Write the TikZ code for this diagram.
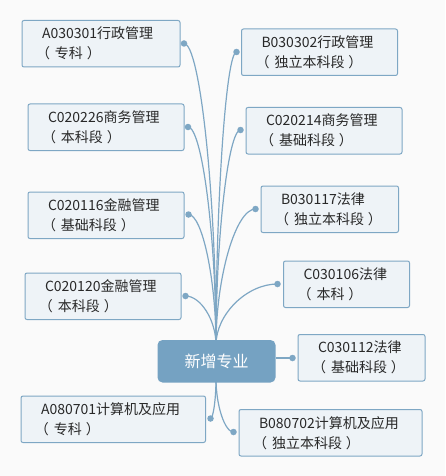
\documentclass[tikz,border=0pt]{standalone}
\usepackage{fontspec}
\setmainfont{Noto Sans CJK SC}
\usetikzlibrary{calc}
\definecolor{bgc}{RGB}{250,250,250}
\definecolor{boxfill}{RGB}{238,243,247}
\definecolor{boxdraw}{RGB}{126,167,196}
\definecolor{mainfill}{RGB}{117,162,194}
\definecolor{linec}{RGB}{126,167,196}
\definecolor{txt}{RGB}{40,40,40}
\newcommand{\mylp}{\hspace*{-6pt}（\nobreak\hspace{5pt}}
\newcommand{\myrp}{\nobreak\hspace{4pt}\nobreak）}
\pgfdeclarelayer{bglayer}
\pgfsetlayers{bglayer,main}
\begin{document}
\begin{tikzpicture}[x=1pt,y=-1pt,
  topic/.style={draw=boxdraw, fill=boxfill, line width=1pt, rounded corners=2pt,
    anchor=north west, inner xsep=20pt, inner ysep=0pt, minimum height=46.5pt,
    align=left, text=txt, font=\fontsize{14}{20}\selectfont},
  central/.style={fill=mainfill, rounded corners=5pt, minimum width=118pt,
    minimum height=42.5pt, text=white, font=\fontsize{16}{20}\selectfont},
  dotn/.style={circle, fill=linec, inner sep=0pt, minimum size=6.5pt},
  conn/.style={draw=linec, line width=1.2pt}]
\useasboundingbox (0,0) rectangle (445,476);

% central topic
\node[central] (c) at (216.5,361.25) {新增专业};

% topics
\node[topic, text width=118pt] (t1) at (21.5,20) {A030301行政管理\\\mylp 专科\myrp};
\node[topic, text width=116pt] (t2) at (241,28.5) {B030302行政管理\\\mylp 独立本科段\myrp};
\node[topic, text width=116pt] (t3) at (27.5,103.5) {C020226商务管理\\\mylp 本科段\myrp};
\node[topic, text width=116pt] (t4) at (245.5,107) {C020214商务管理\\\mylp 基础科段\myrp};
\node[topic, text width=116pt] (t5) at (27.5,191.5) {C020116金融管理\\\mylp 基础科段\myrp};
\node[topic, text width=97.5pt] (t6) at (260.5,185.5) {B030117法律\\\mbox{\mylp 独立本科段\myrp}};
\node[topic, text width=116pt] (t7) at (24.5,272.5) {C020120金融管理\\\mylp 本科段\myrp};
\node[topic, text width=86pt] (t8) at (283,260.5) {C030106法律\\\mylp 本科\myrp};
\node[topic, text width=87pt] (t9) at (297.5,334) {C030112法律\\\mylp 基础科段\myrp};
\node[topic, text width=144.5pt] (t10) at (20.5,395.5) {A080701计算机及应用\\\mylp 专科\myrp};
\node[topic, text width=143pt] (t11) at (238.5,409) {B080702计算机及应用\\\mylp 独立本科段\myrp};

% dots
\node[dotn] (d1) at (184,43.5) {};
\node[dotn] (d2) at (236.5,52) {};
\node[dotn] (d3) at (188,127) {};
\node[dotn] (d4) at (240.5,130) {};
\node[dotn] (d5) at (188.5,214.5) {};
\node[dotn] (d6) at (255.5,209) {};
\node[dotn] (d7) at (185.5,296) {};
\node[dotn] (d8) at (277.5,284) {};
\node[dotn] (d9) at (292.5,358) {};
\node[dotn] (d10) at (210.5,418.5) {};
\node[dotn] (d11) at (233.5,432) {};

\coordinate (cs) at ($(c.north)+(-0.5,5)$);
\coordinate (cb) at ($(c.south)+(-0.5,-4)$);

\begin{pgfonlayer}{bglayer}
\fill[bgc] (0,0) rectangle (445,476);
\foreach \d in {d1,d2,d3,d4,d5,d6,d7,d8}{
  \draw[conn] (cs) .. controls ($(cs)!0.5!(cs|-\d)$) and ($(\d)!0.5!(\d-|cs)$) .. (\d.center);
}
\foreach \d in {d10,d11}{
  \draw[conn] (cb) .. controls ($(cb)!0.5!(cb|-\d)$) and ($(\d)!0.5!(\d-|cb)$) .. (\d.center);
}
\draw[conn] (d9.center) -- (d9 -| c.east);
\end{pgfonlayer}
\end{tikzpicture}
\end{document}
